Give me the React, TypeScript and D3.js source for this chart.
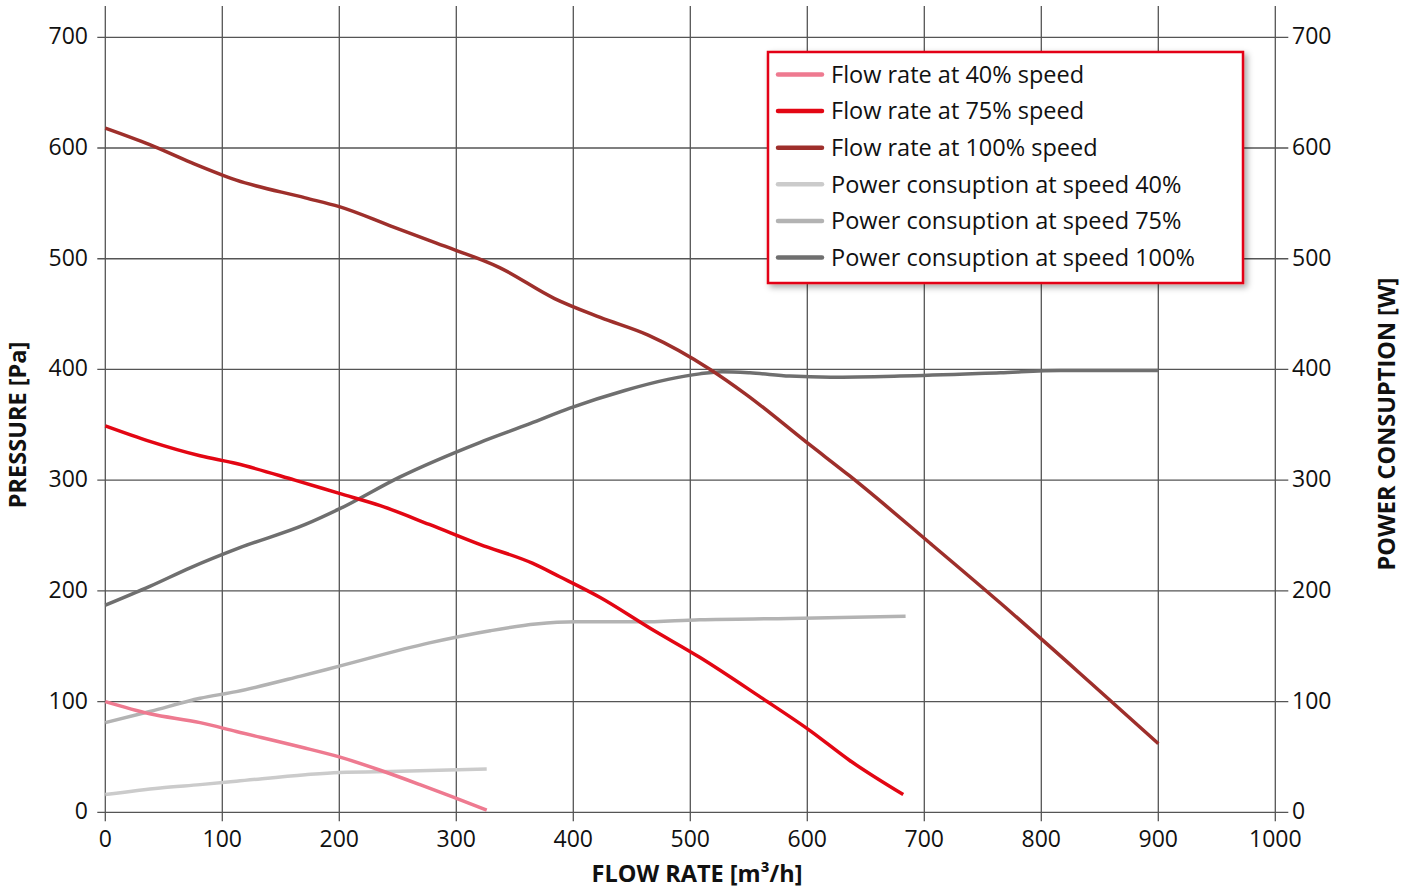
import React from "react";
import * as d3 from "d3";

const xTicks = [0, 100, 200, 300, 400, 500, 600, 700, 800, 900, 1000];
const yTicks = [0, 100, 200, 300, 400, 500, 600, 700];

const flow40: [number, number][] = [
  [0, 100], [38, 89], [81, 81], [112, 73], [167, 59], [200, 50], [235, 38], [269, 25], [299, 13], [326, 2],
];
const flow75: [number, number][] = [
  [0, 349], [38, 335], [81, 322], [112, 315], [162, 300], [200, 288], [235, 277], [277, 260], [320, 242],
  [365, 225], [388, 213], [423, 194], [466, 166], [508, 140], [560, 104], [602, 74], [636, 47], [682, 16],
];
const flow100: [number, number][] = [
  [0, 618], [38, 603], [73, 587], [112, 571], [171, 555], [200, 547], [243, 530], [283, 514], [337, 492],
  [384, 464], [423, 447], [464, 431], [517, 400], [547, 378], [602, 332], [636, 304], [705, 243], [765, 189],
  [842, 117], [900, 62],
];
const power40: [number, number][] = [
  [0, 16], [47, 22], [81, 25], [112, 28], [171, 34], [200, 36], [252, 37], [326, 39],
];
const power75: [number, number][] = [
  [0, 81], [38, 91], [81, 103], [112, 109], [167, 123], [200, 132], [277, 153], [329, 164], [368, 170],
  [402, 172], [457, 172], [508, 174], [585, 175], [684, 177],
];
const power100: [number, number][] = [
  [0, 187], [38, 204], [73, 221], [115, 239], [171, 260], [200, 274], [252, 303], [320, 334], [363, 351],
  [397, 365], [444, 381], [481, 391], [508, 396], [527, 398], [551, 397], [585, 394], [620, 393], [679, 394],
  [765, 397], [816, 399], [900, 399],
];

const seriesNames = [
  "Flow rate at 40% speed",
  "Flow rate at 75% speed",
  "Flow rate at 100% speed",
  "Power consuption at speed 40%",
  "Power consuption at speed 75%",
  "Power consuption at speed 100%",
];
const seriesColors = ["#ee7a90", "#e30613", "#9e2f2b", "#cbcbcb", "#b3b3b3", "#6f6f6f"];

export default function App() {
  const W = 1413, H = 890;
  const x = d3.scaleLinear().domain([0, 1000]).range([105.3, 1275.3]);
  const y = d3.scaleLinear().domain([0, 700]).range([812.3, 37.3]);
  const yR = d3.scaleLinear().domain([0, 700]).range([812.3, 37.3]);
  const line = d3.line<[number, number]>().x(d => x(d[0])).y(d => y(d[1])).curve(d3.curveMonotoneX);
  const lineR = d3.line<[number, number]>().x(d => x(d[0])).y(d => yR(d[1])).curve(d3.curveMonotoneX);
  const font = "'Open Sans', sans-serif";
  const grid = "#555555";
  const plotTop = 6;
  const left = x(0), right = x(1000), bottom = y(0);

  const flowSeries = [flow40, flow75, flow100];
  const powerSeries = [power40, power75, power100];

  const lgX = 768, lgY = 52, lgW = 475, lgH = 231;
  const rowY = (i: number) => 74.5 + i * 36.6;

  return (
    <svg width={W} height={H} style={{ position: "absolute", left: 0, top: 0, background: "#fff" }} fontFamily={font}>
      <defs>
        <filter id="shadow" x="-10%" y="-10%" width="130%" height="130%">
          <feDropShadow dx="3" dy="3" stdDeviation="3" floodColor="#000" floodOpacity="0.35" />
        </filter>
      </defs>
      <rect x={0} y={0} width={W} height={H} fill="#fff" />
      {xTicks.map(t => (
        <line key={"vx" + t} x1={x(t)} x2={x(t)} y1={plotTop} y2={bottom + 9} stroke={grid} strokeWidth={1.3} />
      ))}
      {yTicks.map(t => (
        <line key={"hy" + t} x1={left - 8} x2={right + 13} y1={y(t)} y2={y(t)} stroke={grid} strokeWidth={1.3} />
      ))}
      {yTicks.map(t => (
        <text key={"yl" + t} x={88} y={y(t) - 1} dy="0.35em" textAnchor="end" fontSize={23} fill="#111">{t}</text>
      ))}
      {yTicks.map(t => (
        <text key={"yr" + t} x={1292} y={yR(t) - 1} dy="0.35em" textAnchor="start" fontSize={23} fill="#111">{t}</text>
      ))}
      {xTicks.map(t => (
        <text key={"xl" + t} x={x(t)} y={847} textAnchor="middle" fontSize={23} fill="#111">{t}</text>
      ))}
      <text x={697} y={882} textAnchor="middle" fontSize={23.5} fontWeight="bold" fill="#111">FLOW RATE [m³/h]</text>
      <text transform={`translate(18,425) rotate(-90)`} textAnchor="middle" dy="0.35em" fontSize={23.5} fontWeight="bold" fill="#111">PRESSURE [Pa]</text>
      <text transform={`translate(1387,424) rotate(-90)`} textAnchor="middle" dy="0.35em" fontSize={23.5} fontWeight="bold" fill="#111">POWER CONSUPTION [W]</text>
      {powerSeries.map((s, i) => (
        <path key={"p" + i} d={lineR(s) || ""} fill="none" stroke={seriesColors[3 + i]} strokeWidth={3.5} strokeLinecap="butt" />
      ))}
      {flowSeries.map((s, i) => (
        <path key={"f" + i} d={line(s) || ""} fill="none" stroke={seriesColors[i]} strokeWidth={3.5} strokeLinecap="butt" />
      ))}
      <rect x={lgX} y={lgY} width={lgW} height={lgH} fill="#fff" stroke="#e30613" strokeWidth={2.5} filter="url(#shadow)" />
      {seriesNames.map((n, i) => (
        <g key={"lg" + i}>
          <line x1={778} x2={822} y1={rowY(i)} y2={rowY(i)} stroke={seriesColors[i]} strokeWidth={4.5} strokeLinecap="round" />
          <text x={831} y={rowY(i)} dy="0.35em" fontSize={23.5} fill="#111">{n}</text>
        </g>
      ))}
    </svg>
  );
}
